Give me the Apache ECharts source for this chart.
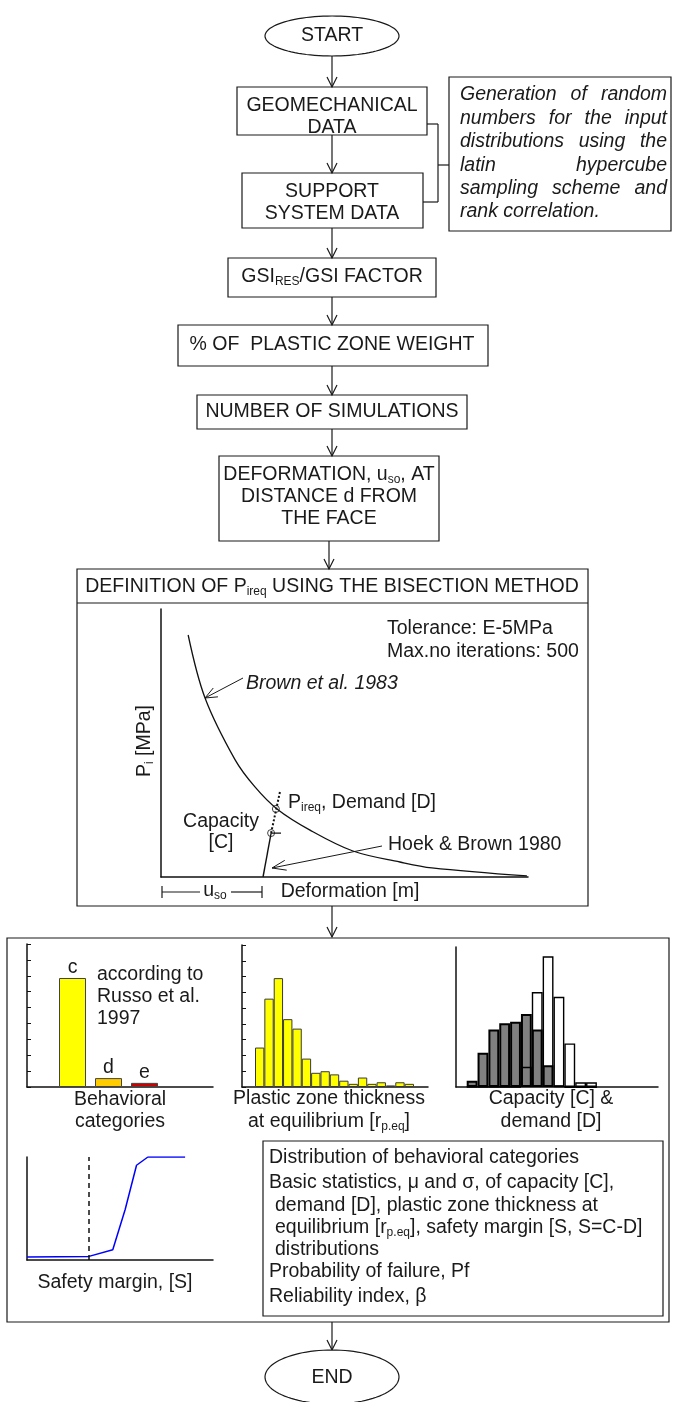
<!DOCTYPE html>
<html>
<head>
<meta charset="utf-8">
<script src="https://cdn.jsdelivr.net/npm/echarts@6/dist/echarts.min.js"></script>
<style>
  html, body { margin: 0; padding: 0; background: #fff; }
  #chart { width: 674px; height: 1402px; }
</style>
</head>
<body>
<div id="chart"></div>
<script>
// ---- Ground reaction / support curves (deformation %, pressure %) ----
const brownCurve = [[7.4, 90.3], [12.0, 66.8], [20.2, 43.7], [25.6, 33.6], [31.6, 25.4],
                    [40.6, 17.5], [52.3, 9.7], [65.1, 5.6], [73.8, 3.4], [99.7, 0.4]];
const supportLine = [[27.8, 0], [30.0, 16.4]];
const supportExtension = [[30.0, 16.4], [32.4, 31.7]];
const capacityTick = [[30.0, 16.4], [32.7, 16.4]];
const equilibriumPoint = [31.3, 25.4];
const capacityPoint = [30.0, 16.4];

// ---- Behavioral categories (number of simulations) ----
const behaviorCats = ['c', 'd', 'e'];
const behaviorCounts = [343, 28, 13];
const behaviorColors = ['#ffff00', '#ffcc00', '#cc0000'];

// ---- Plastic zone thickness at equilibrium histogram ----
const plasticBins = ['1', '2', '3', '4', '5', '6', '7', '8', '9', '10', '11', '12', '13', '14', '15', '16', '17'];
const plasticCounts = [25, 56, 69, 43, 37, 18, 9, 10, 8, 4, 2, 6, 2, 3, 1, 3, 2];

// ---- Capacity and demand histograms ----
const cdBins = ['1', '2', '3', '4', '5', '6', '7', '8', '9', '10', '11', '12'];
const capacityCounts = [4, 22, 37, 41, 42, 47, 37, 14, 1, 0, 0, 0];
const demandCounts = [0, 0, 0, 0, 0, 13, 61, 84, 58, 28, 3, 3];

// ---- Cumulative distribution of the safety margin ----
const safetyMargin = [-3, 0, 1.15, 1.75, 2.3, 2.85, 4.65];
const cumulativeProb = [0.03, 0.035, 0.1, 0.49, 0.92, 1, 1];

// ---------------------------------------------------------------
const FAMILY = '"Liberation Sans", Arial, Helvetica, sans-serif';
const FS = 19.5;
const INK = '#1a1a1a';
const SUB = { fontSize: 12, fontFamily: FAMILY, lineHeight: 10, verticalAlign: 'bottom', fill: INK };
const G = [];

function box(x, y, w, h) {
  G.push({ type: 'rect', silent: true, shape: { x: x, y: y, width: w, height: h },
           style: { fill: 'none', stroke: INK, lineWidth: 1.2 } });
}
function seg(x1, y1, x2, y2, lw) {
  G.push({ type: 'line', silent: true, shape: { x1: x1, y1: y1, x2: x2, y2: y2 },
           style: { stroke: INK, lineWidth: lw || 1.2 } });
}
function arrow(x1, y1, x2, y2, len, hw, lw) {
  seg(x1, y1, x2, y2, lw);
  const L = Math.hypot(x2 - x1, y2 - y1), ux = (x2 - x1) / L, uy = (y2 - y1) / L;
  const bx = x2 - ux * len, by = y2 - uy * len;
  G.push({ type: 'polyline', silent: true,
           shape: { points: [[bx - uy * hw, by + ux * hw], [x2, y2], [bx + uy * hw, by - ux * hw]] },
           style: { stroke: INK, fill: 'none', lineWidth: lw || 1.2 } });
}
function flow(x, y1, y2) { arrow(x, y1, x, y2, 10, 5, 1.2); }
function oval(cx, cy, rx, ry) {
  const pts = [];
  for (let i = 0; i < 96; i++) {
    const a = i / 96 * Math.PI * 2;
    pts.push([cx + rx * Math.cos(a), cy + ry * Math.sin(a)]);
  }
  G.push({ type: 'polygon', silent: true, shape: { points: pts },
           style: { fill: '#fff', stroke: INK, lineWidth: 1.2 } });
}
function label(str, x, y, opt) {
  opt = opt || {};
  G.push({ type: 'text', silent: true, x: x, y: y, rotation: opt.rotation || 0, z: 50,
           style: { text: str, fontSize: opt.size || FS, fontFamily: FAMILY,
                    fontStyle: opt.italic ? 'italic' : 'normal', fill: INK,
                    align: opt.align || 'center', verticalAlign: 'middle',
                    lineHeight: opt.lineHeight || 22, rich: { s: SUB } } });
}

// ---- Flowchart: top part ----
oval(332, 36, 67, 20);
label('START', 332, 36);
flow(332, 56, 87);

box(237, 87, 190, 48);
label('GEOMECHANICAL', 332, 106);
label('DATA', 332, 128);
flow(332, 135, 173);

box(242, 173, 181, 55);
label('SUPPORT', 332, 192);
label('SYSTEM DATA', 332, 214);

// bracket joining the two input boxes to the sampling note
seg(427, 124, 438, 124); seg(438, 124, 438, 202); seg(438, 202, 423, 202); seg(438, 165, 449, 165);

// sampling note with justified italic lines
box(449, 77, 222, 154);
const noteLines = ['Generation of random', 'numbers for the input', 'distributions  using the',
                   'latin hypercube', 'sampling scheme and', 'rank correlation.'];
const measure = document.createElement('canvas').getContext('2d');
measure.font = 'italic ' + FS + 'px ' + FAMILY;
const noteLeft = 460, noteRight = 667;
noteLines.forEach(function (ln, i) {
  const y = 95 + i * 23.4;
  if (i === noteLines.length - 1) { label(ln, noteLeft, y, { italic: true, align: 'left' }); return; }
  const words = ln.split(/\s+/);
  const widths = words.map(function (w) { return measure.measureText(w).width; });
  const total = widths.reduce(function (a, b) { return a + b; }, 0);
  const gap = (noteRight - noteLeft - total) / (words.length - 1);
  let x = noteLeft;
  words.forEach(function (w, k) { label(w, x, y, { italic: true, align: 'left' }); x += widths[k] + gap; });
});

flow(332, 228, 258);
box(228, 258, 208, 39);
label('GSI{s|RES}/GSI FACTOR', 332, 277);
flow(332, 297, 325);

box(178, 325, 310, 41);
label('% OF  PLASTIC ZONE WEIGHT', 332, 345);
flow(332, 366, 395);

box(197, 395, 270, 34);
label('NUMBER OF SIMULATIONS', 332, 412);
flow(332, 429, 456);

box(219, 456, 220, 85);
label('DEFORMATION, u{s|so}, AT', 329, 475);
label('DISTANCE d FROM', 329, 497);
label('THE FACE', 329, 519);
flow(329, 541, 569);

// ---- Bisection method panel ----
box(77, 569, 511, 337);
seg(77, 603, 588, 603);
label('DEFINITION OF P{s|ireq} USING THE BISECTION METHOD', 332, 587);
label('Tolerance: E-5MPa', 387, 629, { align: 'left' });
label('Max.no iterations: 500', 387, 652, { align: 'left' });
label('Brown et al. 1983', 246, 684, { italic: true, align: 'left' });
arrow(243, 678, 205, 698, 12, 5, 1);
label('P{s|i} [MPa]', 145, 741, { rotation: Math.PI / 2 });
label('P{s|ireq}, Demand [D]', 288, 803, { align: 'left' });
label('Capacity', 221, 822);
label('[C]', 221, 843);
label('Hoek & Brown 1980', 388, 845, { align: 'left' });
arrow(382, 846, 272, 868, 14, 5, 1);
// u_so dimension under the deformation axis
seg(162, 886, 162, 898, 1.2); seg(162, 892, 200, 892, 1.2);
label('u{s|so}', 215, 891);
seg(231, 892, 262, 892, 1.2); seg(262, 886, 262, 898, 1.2);
label('Deformation [m]', 350, 892);
flow(332, 906, 937);

// ---- Results panel ----
box(7, 938, 662, 384);
label('according to', 97, 975, { align: 'left' });
label('Russo et al.', 97, 997, { align: 'left' });
label('1997', 97, 1019, { align: 'left' });
label('Behavioral', 120, 1100);
label('categories', 120, 1122);
label('Plastic zone thickness', 329, 1099);
label('at equilibrium [r{s|p.eq}]', 329, 1122);
label('Capacity [C] &', 551, 1099);
label('demand [D]', 551, 1122);
label('Safety margin, [S]', 115, 1283);

box(263, 1141, 400, 175);
const outputs = [
  ['Distribution of behavioral categories', 269, 1158],
  ['Basic statistics, \u03bc and \u03c3, of capacity [C],', 269, 1183],
  ['demand [D], plastic zone thickness at', 275, 1206],
  ['equilibrium [r{s|p.eq}], safety margin [S, S=C-D]', 275, 1228],
  ['distributions', 275, 1250],
  ['Probability of failure, Pf', 269, 1272],
  ['Reliability index, \u03b2', 269, 1297]
];
outputs.forEach(function (o) { label(o[0], o[1], o[2], { align: 'left' }); });

flow(332, 1322, 1350);
oval(332, 1377, 67, 27);
label('END', 332, 1378);

// ---- Axes ----
const hiddenAxis = { show: false };
function frameAxis(extra) {
  return Object.assign({
    type: 'value', axisLine: { show: true, onZero: false, lineStyle: { color: '#111', width: 1.5 } },
    axisTick: { show: false }, axisLabel: { show: false }, splitLine: { show: false }
  }, extra);
}
const tickStyle = { show: true, inside: true, length: 4, lineStyle: { color: '#111', width: 1 } };

const grids = [
  { left: 161, top: 609, width: 367, height: 268 },   // 0 bisection chart
  { left: 27, top: 944, width: 186, height: 143 },    // 1 behavioral frame
  { left: 54.5, top: 944, width: 108, height: 143 },  // 2 behavioral bars
  { left: 242, top: 945, width: 186, height: 142 },   // 3 plastic frame
  { left: 255, top: 945, width: 159, height: 142 },   // 4 plastic bars
  { left: 456, top: 947, width: 202, height: 140 },   // 5 capacity/demand frame
  { left: 466.7, top: 947, width: 130.2, height: 140 },// 6 capacity/demand bars
  { left: 27, top: 1157, width: 186, height: 103 }    // 7 safety margin
];

const xAxes = [
  frameAxis({ gridIndex: 0, min: 0, max: 100 }),
  frameAxis({ gridIndex: 1, min: 0, max: 1 }),
  Object.assign({ type: 'category', gridIndex: 2, data: behaviorCats }, hiddenAxis),
  frameAxis({ gridIndex: 3, min: 0, max: 1 }),
  Object.assign({ type: 'category', gridIndex: 4, data: plasticBins }, hiddenAxis),
  frameAxis({ gridIndex: 5, min: 0, max: 1 }),
  Object.assign({ type: 'category', gridIndex: 6, data: cdBins }, hiddenAxis),
  frameAxis({ gridIndex: 7, min: -3, max: 6 })
];
const yAxes = [
  frameAxis({ gridIndex: 0, min: 0, max: 100 }),
  frameAxis({ gridIndex: 1, min: 0, max: 450, interval: 50, axisTick: tickStyle }),
  Object.assign({ type: 'value', gridIndex: 2, min: 0, max: 450 }, hiddenAxis),
  frameAxis({ gridIndex: 3, min: 0, max: 90, interval: 10, axisTick: tickStyle }),
  Object.assign({ type: 'value', gridIndex: 4, min: 0, max: 90 }, hiddenAxis),
  frameAxis({ gridIndex: 5, min: 0, max: 90 }),
  Object.assign({ type: 'value', gridIndex: 6, min: 0, max: 90 }, hiddenAxis),
  frameAxis({ gridIndex: 7, min: 0, max: 1 })
];

const series = [
  { type: 'line', xAxisIndex: 0, yAxisIndex: 0, data: brownCurve, smooth: 0.35, showSymbol: false,
    silent: true, lineStyle: { color: '#111', width: 1.3 } },
  { type: 'line', xAxisIndex: 0, yAxisIndex: 0, data: supportLine, showSymbol: false,
    silent: true, lineStyle: { color: '#111', width: 1.4 } },
  { type: 'line', xAxisIndex: 0, yAxisIndex: 0, data: supportExtension, showSymbol: false,
    silent: true, lineStyle: { color: '#111', width: 2, type: [2, 2] } },
  { type: 'line', xAxisIndex: 0, yAxisIndex: 0, data: capacityTick, showSymbol: false,
    silent: true, lineStyle: { color: '#111', width: 1.2 } },
  { type: 'scatter', xAxisIndex: 0, yAxisIndex: 0, data: [equilibriumPoint, capacityPoint],
    symbol: 'circle', symbolSize: 7, silent: true, z: 5,
    itemStyle: { color: 'rgba(255,255,255,0)', borderColor: '#111', borderWidth: 1 } },
  { type: 'bar', xAxisIndex: 2, yAxisIndex: 2, barCategoryGap: '25%', silent: true,
    data: behaviorCounts.map(function (v, i) {
      return { value: v, itemStyle: { color: behaviorColors[i] } };
    }),
    itemStyle: { borderColor: '#444', borderWidth: 1 },
    label: { show: true, position: 'top', distance: 0, formatter: '{b}',
             fontSize: FS, fontFamily: FAMILY, color: INK } },
  { type: 'bar', xAxisIndex: 4, yAxisIndex: 4, data: plasticCounts, barCategoryGap: 0, silent: true,
    itemStyle: { color: '#ffff00', borderColor: '#3a3a3a', borderWidth: 1 } },
  { type: 'bar', xAxisIndex: 6, yAxisIndex: 6, data: capacityCounts, barCategoryGap: 0, barGap: '-100%',
    silent: true, itemStyle: { color: '#808080', borderColor: '#000', borderWidth: 2 } },
  { type: 'bar', xAxisIndex: 6, yAxisIndex: 6, data: demandCounts, barCategoryGap: 0, barGap: '-100%',
    silent: true, itemStyle: { color: 'rgba(255,255,255,0)', borderColor: '#000', borderWidth: 1.4 } },
  { type: 'line', xAxisIndex: 7, yAxisIndex: 7, showSymbol: false, silent: true,
    data: safetyMargin.map(function (s, i) { return [s, cumulativeProb[i]]; }),
    lineStyle: { color: '#0000ff', width: 1.5 },
    markLine: { symbol: 'none', silent: true, label: { show: false },
                lineStyle: { type: [5, 4], color: '#111', width: 1.5 }, data: [{ xAxis: 0 }] } }
];

const chart = echarts.init(document.getElementById('chart'), null, { renderer: 'canvas' });
chart.setOption({
  animation: false,
  backgroundColor: '#fff',
  grid: grids,
  xAxis: xAxes,
  yAxis: yAxes,
  series: series,
  graphic: { elements: G }
});
</script>
</body>
</html>
